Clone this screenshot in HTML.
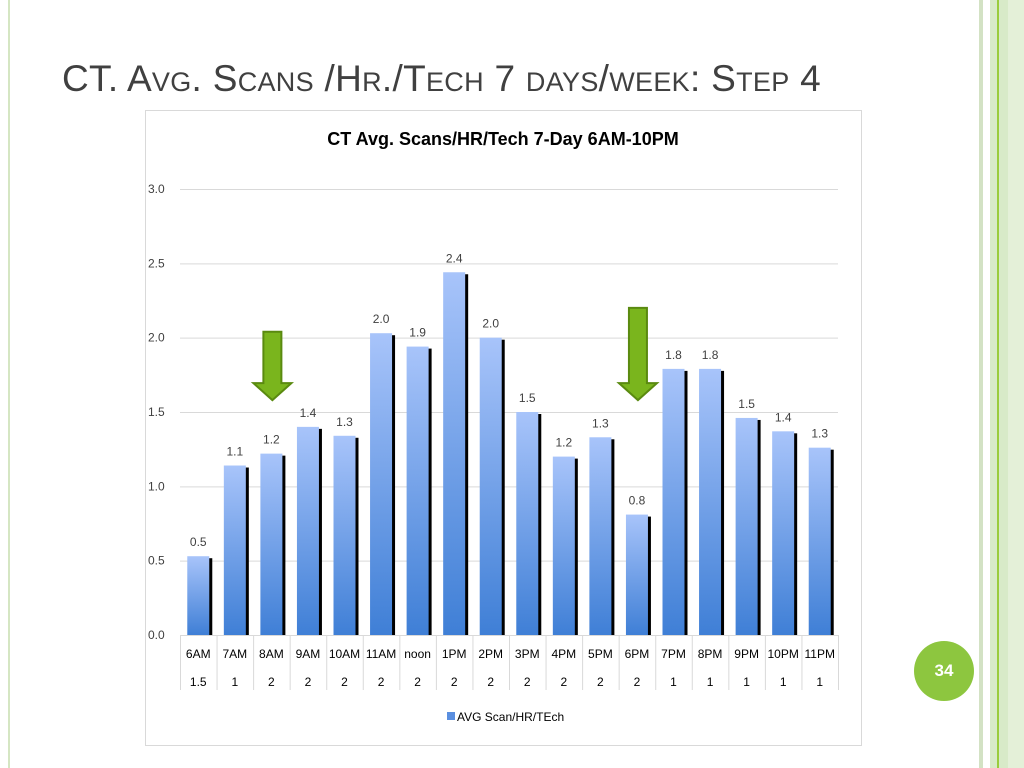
<!DOCTYPE html>
<html><head><meta charset="utf-8"><style>
body{margin:0;width:1024px;height:768px;background:#fff;position:relative;overflow:hidden;font-family:"Liberation Sans",sans-serif}
.abs{position:absolute}
</style></head><body>
<div class="abs" style="left:8px;top:0;width:2px;height:768px;background:#d5e6c3"></div>
<div class="abs" style="left:979px;top:0;width:4px;height:768px;background:#d3e2c4"></div>
<div class="abs" style="left:990px;top:0;width:34px;height:768px;background:#d8eac8"></div>
<div class="abs" style="left:997px;top:0;width:2px;height:768px;background:#9acc3c"></div>
<div class="abs" style="left:1008px;top:0;width:16px;height:768px;background:#e4f0d8"></div>
<div class="abs" style="left:62px;top:58px;font-size:37px;color:#404040;white-space:nowrap;letter-spacing:0.3px">CT. A<span style="font-size:27px">VG</span>. S<span style="font-size:27px">CANS</span> /H<span style="font-size:27px">R</span>./T<span style="font-size:27px">ECH</span> 7 <span style="font-size:27px">DAYS</span>/<span style="font-size:27px">WEEK</span>: S<span style="font-size:27px">TEP</span> 4</div>
<div class="abs" style="left:914px;top:641px;width:60px;height:60px;border-radius:50%;background:#8dc63f;color:#fff;font-size:17px;font-weight:bold;text-align:center;line-height:60px">34</div>
<svg class="abs" style="left:0;top:0" width="1024" height="768" id="chart">
<defs><linearGradient id="bg" x1="0" y1="0" x2="0" y2="1"><stop offset="0" stop-color="#a8c4fa"/><stop offset="1" stop-color="#3f7fd6"/></linearGradient></defs>
<rect x="145.5" y="110.5" width="716" height="635" fill="#fff" stroke="#d9d9d9"/>
<text x="503" y="145" text-anchor="middle" font-size="18" font-weight="bold" fill="#000">CT Avg. Scans/HR/Tech 7-Day 6AM-10PM</text>
<g id="g"></g>
</svg>
<script>
const categories=["6AM","7AM","8AM","9AM","10AM","11AM","noon","1PM","2PM","3PM","4PM","5PM","6PM","7PM","8PM","9PM","10PM","11PM"];
const avgScans=[0.53,1.14,1.22,1.4,1.34,2.03,1.94,2.44,2.0,1.5,1.2,1.33,0.81,1.79,1.79,1.46,1.37,1.26];
const techs=["1.5","1","2","2","2","2","2","2","2","2","2","2","2","1","1","1","1","1"];
const yTicks=[0,0.5,1,1.5,2,2.5,3];
const arrowCats=["8AM","6PM"];
const arrowTops=[2.04,2.2];
const arrowTip=1.58;
const NS="http://www.w3.org/2000/svg",g=document.getElementById('g');
const x0=180,x1=838,y0=635,y1=189,ymax=3;
const bw=(x1-x0)/categories.length;
const Y=v=>y0-(v/ymax)*(y0-y1);
const X=i=>x0+bw*i;
function mk(t,a,p){const e=document.createElementNS(NS,t);for(const k in a)e.setAttribute(k,a[k]);(p||g).appendChild(e);return e;}
yTicks.forEach(t=>{
 const l=mk('line',{x1:x0,x2:x1,y1:Y(t)+.5,y2:Y(t)+.5,stroke:'#d9d9d9'});
 
 
 const tx=mk('text',{x:148,y:Y(t)+4,'font-size':12,fill:'#404040'});tx.textContent=t.toFixed(1);
 
 
});
for(let i=0;i<=categories.length;i++){
 const l=mk('line',{x1:X(i)+.5,x2:X(i)+.5,y1:y0,y2:690,stroke:'#d9d9d9'});
 
 
}
categories.forEach((c,i)=>{
 const cx=X(i)+bw/2,w=22,top=Y(avgScans[i]);
 const sh=mk('rect',{x:cx-w/2+3,y:top+2,width:w,height:y0-top-2,fill:'#000'});
 
 
 const b=mk('rect',{x:cx-w/2,y:top,width:w,height:y0-top,fill:'url(#bg)'});
 
 
 const v=mk('text',{x:cx,y:top-10,'text-anchor':'middle','font-size':12,fill:'#404040'});v.textContent=avgScans[i].toFixed(1);
 
 
 const cl=mk('text',{x:cx,y:658,'text-anchor':'middle','font-size':12,fill:'#000'});cl.textContent=c;
 
 
 const tl=mk('text',{x:cx,y:686,'text-anchor':'middle','font-size':12,fill:'#000'});tl.textContent=techs[i];
 
 
 const ai=arrowCats.indexOf(c);
 if(ai>=0){
  const ax=cx+1,tp=Y(arrowTops[ai]),tip=Y(arrowTip),hb=tip-17;
  const a=mk('polygon',{points:`${ax-9},${tp} ${ax+9},${tp} ${ax+9},${hb} ${ax+19},${hb} ${ax},${tip} ${ax-19},${hb} ${ax-9},${hb}`,fill:'#7ab51d',stroke:'#5a8a10','stroke-width':2});
  
  
 }
});
const lk=mk('rect',{x:447,y:712,width:8,height:8,fill:'#5a8fe0'});


const lt=mk('text',{x:457,y:721,'font-size':12,fill:'#000'});lt.textContent='AVG Scan/HR/TEch';


</script>
</body></html>
